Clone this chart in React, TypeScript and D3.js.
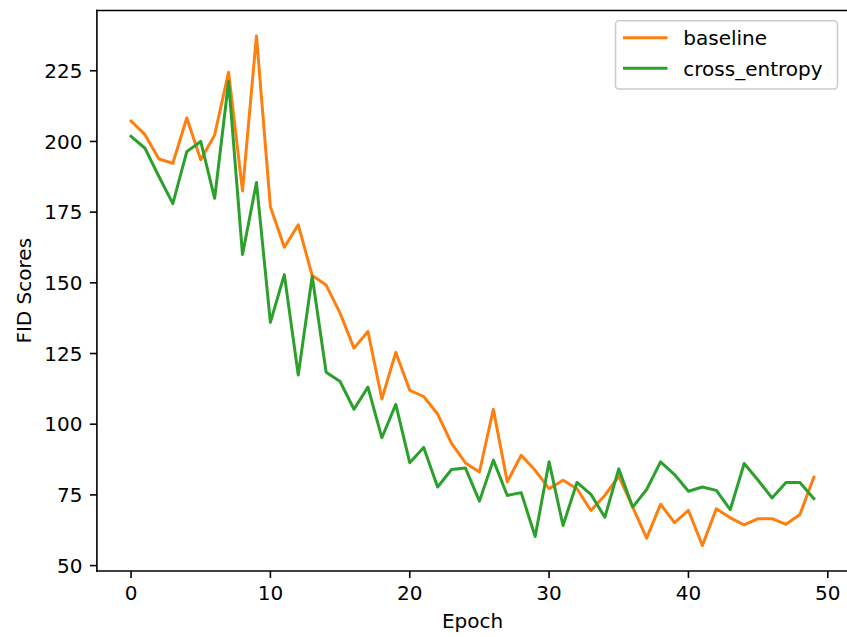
import React from "react";
import * as d3 from "d3";

const epochs: number[] = Array.from({ length: 50 }, (_, i) => i);
const baseline: number[] = [207.2, 202.4, 193.8, 192.3, 208.3, 193.5, 202.3, 224.5, 182.5, 237.3, 176.9, 162.6, 170.5, 152.6, 149.2, 139.3, 126.9, 132.8, 108.9, 125.4, 112.0, 109.8, 103.6, 93.2, 86.3, 83.1, 105.3, 79.6, 89.0, 83.7, 77.2, 80.2, 77.2, 69.5, 74.8, 81.6, 70.7, 59.7, 71.7, 65.2, 69.5, 57.1, 70.1, 66.9, 64.4, 66.6, 66.6, 64.6, 68.1, 81.3];
const crossEntropy: number[] = [201.8, 197.6, 187.6, 178.0, 196.4, 200.0, 179.9, 221.2, 160.0, 185.5, 136.0, 152.9, 117.4, 152.3, 118.4, 115.1, 105.3, 113.1, 95.2, 107.0, 86.4, 91.8, 77.8, 84.0, 84.5, 72.8, 87.3, 74.8, 75.8, 60.3, 86.7, 64.2, 79.4, 75.2, 67.1, 84.2, 70.7, 76.9, 86.7, 82.2, 76.3, 77.8, 76.6, 69.8, 86.1, 80.2, 73.9, 79.4, 79.4, 73.7];
const xTicks: number[] = [0, 10, 20, 30, 40, 50];
const yTicks: number[] = [50, 75, 100, 125, 150, 175, 200, 225];
const seriesNames: string[] = ["baseline", "cross_entropy"];
const seriesColors: string[] = ["#ff7f0e", "#2ca02c"];

const W = 847;
const H = 637;
const left = 96.9;
const right = 848;
const top = 10.5;
const bottom = 571;
const FONT = "'DejaVu Sans', sans-serif";
const FS = 20;

export default function App() {
  const all = baseline.concat(crossEntropy);
  const yMin = d3.min(all) as number;
  const yMax = d3.max(all) as number;
  const yPad = (yMax - yMin) * 0.05;
  const xPad = 49 * 0.05;
  const x = d3.scaleLinear().domain([-xPad, 49 + xPad]).range([left, right]);
  const y = d3.scaleLinear().domain([yMin - yPad, yMax + yPad]).range([bottom, top]);
  const line = d3
    .line<number>()
    .x((_, i) => x(epochs[i]))
    .y((d) => y(d));
  const series = [baseline, crossEntropy];
  const tickLen = 7;
  const sw = 1.6;

  return (
    <div style={{ position: "absolute", left: 0, top: 0, width: W, height: H, background: "#fff" }}>
      <svg width={W} height={H} style={{ display: "block" }} fontFamily={FONT}>
        <rect x={0} y={0} width={W} height={H} fill="#fff" />
        <defs>
          <clipPath id="plot">
            <rect x={left} y={top} width={right - left} height={bottom - top} />
          </clipPath>
        </defs>
        <g clipPath="url(#plot)">
          {series.map((s, k) => (
            <path
              key={k}
              d={line(s) || ""}
              fill="none"
              stroke={seriesColors[k]}
              strokeWidth={3}
              strokeLinejoin="round"
              strokeLinecap="square"
            />
          ))}
        </g>
        {/* spines */}
        <g stroke="#000" strokeWidth={sw} fill="none">
          <line x1={left} y1={top} x2={left} y2={bottom} strokeLinecap="square" />
          <line x1={left} y1={bottom} x2={right} y2={bottom} strokeLinecap="square" />
          <line x1={left} y1={top} x2={right} y2={top} strokeLinecap="square" />
          <line x1={right} y1={top} x2={right} y2={bottom} />
        </g>
        {/* x ticks */}
        {xTicks.map((t) => (
          <g key={"x" + t}>
            <line x1={x(t)} x2={x(t)} y1={bottom} y2={bottom + tickLen} stroke="#000" strokeWidth={sw} />
            <text x={x(t)} y={600.3} textAnchor="middle" fontSize={FS} fill="#000">
              {t}
            </text>
          </g>
        ))}
        {/* y ticks */}
        {yTicks.map((t) => (
          <g key={"y" + t}>
            <line x1={left - tickLen} x2={left} y1={y(t)} y2={y(t)} stroke="#000" strokeWidth={sw} />
            <text x={left - 14.5} y={y(t)} dy="0.36em" textAnchor="end" fontSize={FS} fill="#000">
              {t}
            </text>
          </g>
        ))}
        <text x={472.5} y={628.3} textAnchor="middle" fontSize={FS} fill="#000">
          Epoch
        </text>
        <text
          transform={`translate(31, ${(top + bottom) / 2}) rotate(-90)`}
          textAnchor="middle"
          fontSize={FS}
          fill="#000"
        >
          FID Scores
        </text>
        {/* legend */}
        <rect x={615.5} y={20.7} width={222} height={68.3} rx={3.5} fill="#fff" fillOpacity={0.8} stroke="#cccccc" strokeWidth={sw} />
        {seriesNames.map((n, k) => (
          <g key={n}>
            <line x1={623} x2={667.5} y1={37.7 + k * 30.6} y2={37.7 + k * 30.6} stroke={seriesColors[k]} strokeWidth={3} />
            <text x={683.3} y={37.7 + k * 30.6} dy="0.36em" fontSize={FS} fill="#000">
              {n}
            </text>
          </g>
        ))}
      </svg>
    </div>
  );
}
